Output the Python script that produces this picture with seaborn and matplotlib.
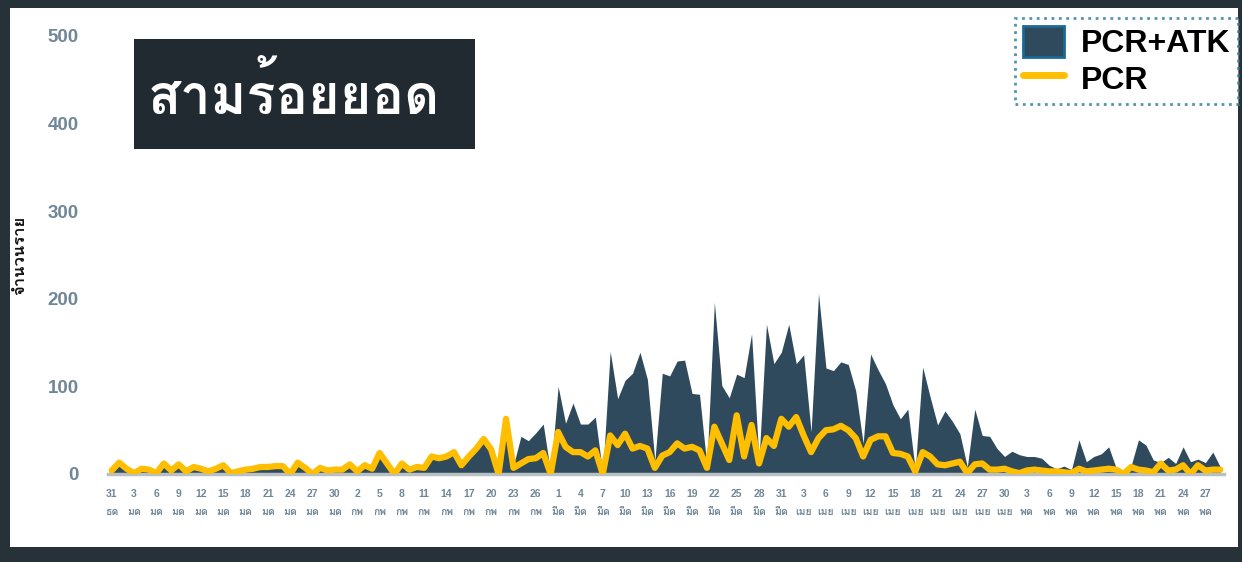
import numpy as np
import pandas as pd
import seaborn as sns
import matplotlib
matplotlib.use('Agg')
import matplotlib.pyplot as plt
from matplotlib.patches import Rectangle, Patch
from matplotlib.lines import Line2D
from matplotlib import font_manager
from matplotlib.ft2font import FT2Font

# daily cases, 31 Dec 2021 .. 29 May 2022
start_date = '2021-12-31'
pcr_atk = [5, 14, 8, 2, 7, 6, 2, 13, 5, 12, 4, 9, 7, 4, 7, 11, 2, 4, 7, 8,
           10, 10, 11, 11, 1, 14, 8, 1, 8, 5, 6, 6, 12, 4, 11, 8, 25, 13, 1, 13,
           7, 9, 9, 22, 20, 22, 27, 12, 22, 31, 42, 30, 1, 64, 10, 43, 38, 47, 57, 1,
           100, 58, 81, 57, 57, 65, 1, 140, 86, 107, 115, 139, 108, 15, 115, 112, 129, 130, 92, 91,
           9, 196, 101, 87, 114, 110, 160, 15, 171, 126, 139, 171, 126, 136, 48, 206, 121, 118, 128, 125,
           95, 35, 137, 119, 103, 79, 63, 74, 5, 122, 88, 56, 72, 60, 46, 8, 74, 44, 43, 29,
           20, 26, 22, 20, 20, 18, 10, 6, 9, 5, 39, 14, 20, 23, 31, 7, 4, 9, 39, 33,
           16, 13, 19, 12, 31, 14, 17, 13, 25, 8]
pcr = [4, 13, 6, 1, 6, 5, 1, 12, 4, 11, 3, 8, 6, 3, 6, 10, 1, 3, 5, 6,
       8, 8, 9, 9, 0, 13, 7, 0, 7, 4, 5, 5, 11, 3, 10, 6, 24, 12, 0, 12,
       5, 8, 7, 20, 18, 20, 25, 10, 20, 29, 40, 28, 0, 63, 7, 12, 17, 18, 24, 0,
       48, 31, 25, 25, 20, 27, 0, 44, 33, 46, 29, 32, 29, 7, 21, 25, 35, 29, 31, 27,
       7, 54, 35, 16, 67, 20, 56, 12, 41, 32, 63, 54, 65, 44, 25, 41, 50, 51, 55, 50,
       41, 20, 39, 43, 43, 24, 23, 20, 3, 25, 20, 11, 10, 12, 14, 1, 11, 12, 5, 5,
       6, 3, 1, 4, 5, 4, 3, 3, 2, 1, 6, 3, 4, 5, 6, 5, 0, 8, 5, 4,
       2, 12, 4, 5, 10, 0, 10, 4, 5, 5]
month_th = {12: 'ธค', 1: 'มค', 2: 'กพ', 3: 'มีค', 4: 'เมย', 5: 'พค'}
y_ticks = [0, 100, 200, 300, 400, 500]

# look for any installed font that has Thai glyphs
thai_fonts = []
for f in font_manager.fontManager.ttflist:
    try:
        if 0x0E2A in FT2Font(f.fname).get_charmap() and f.name not in thai_fonts:
            thai_fonts.append(f.name)
    except Exception:
        pass

sns.set_theme(style='white')
plt.rcParams['font.family'] = ['Liberation Sans'] + thai_fonts + ['DejaVu Sans']

dates = pd.date_range(start_date, periods=len(pcr))
x = np.arange(len(pcr))

fig = plt.figure(figsize=(12.42, 5.62), dpi=100, facecolor='#263238')
W, H = 1242, 562
fig.patches.append(Rectangle((10/W, 1-547/H), 1228/W, 539/H, transform=fig.transFigure,
                             facecolor='white', edgecolor='none', zorder=-5))

ax = fig.add_axes([108/W, 1-474/H, 1116/W, 438/H])
ax.set_zorder(0)
ax.set_facecolor('none')
ax.fill_between(x, pcr_atk, color='#2e4a5c', lw=0, zorder=2)
sns.lineplot(x=x, y=pcr, color='#ffbf00', lw=4.5, ax=ax, zorder=3)

ax.set_xlim(-0.5, len(pcr) - 0.5)
ax.set_ylim(0, 500)
for s in ['top', 'right', 'left']:
    ax.spines[s].set_visible(False)
ax.spines['bottom'].set_color('#b9c0c4')
ax.spines['bottom'].set_linewidth(2.5)

ax.set_yticks(y_ticks)
ax.set_yticklabels([str(v) for v in y_ticks], fontsize=13.5, fontweight='bold', color='#6f8797')
ax.tick_params(axis='y', length=0, pad=21)

ax.set_xticks(x[::3])
ax.set_xticklabels([f'{d.day}\n{month_th[d.month]}' for d in dates[::3]],
                   fontsize=7.5, fontweight='bold', color='#6f8797', linespacing=2.0)
ax.tick_params(axis='x', length=0, pad=11)
ax.set_xlabel('')
ax.set_ylabel('')

fig.text(20/W, 1-255/H, 'จำนวนราย', rotation=90, fontsize=12, fontweight='bold',
         color='#111111', ha='center', va='center')

# title box
fig.patches.append(Rectangle((134/W, 1-149/H), 341/W, 110/H, transform=fig.transFigure,
                             facecolor='#222a31', edgecolor='none', zorder=5))
fig.text(294/W, 1-95/H, 'สามร้อยยอด', fontsize=39, fontweight='bold', color='white',
         ha='center', va='center', zorder=6)

handles = [Patch(facecolor='#2e4a5c', edgecolor='#1a6a94', lw=2),
           Line2D([0], [0], color='#ffbf00', lw=5)]
leg = fig.legend(handles, ['PCR+ATK', 'PCR'], loc='upper right',
                 bbox_to_anchor=(1238/W, 1-18/H), prop={'size': 23, 'weight': 'bold'},
                 fancybox=False, handlelength=1.3, handleheight=1.1, labelspacing=0.1,
                 borderpad=0.25, handletextpad=0.5, borderaxespad=0, labelcolor='black')
leg.set_zorder(6)
leg.get_frame().set_edgecolor('#2a7a9a')
leg.get_frame().set_linestyle(':')
leg.get_frame().set_linewidth(2)

fig.savefig('out.png', dpi=100, facecolor=fig.get_facecolor())
